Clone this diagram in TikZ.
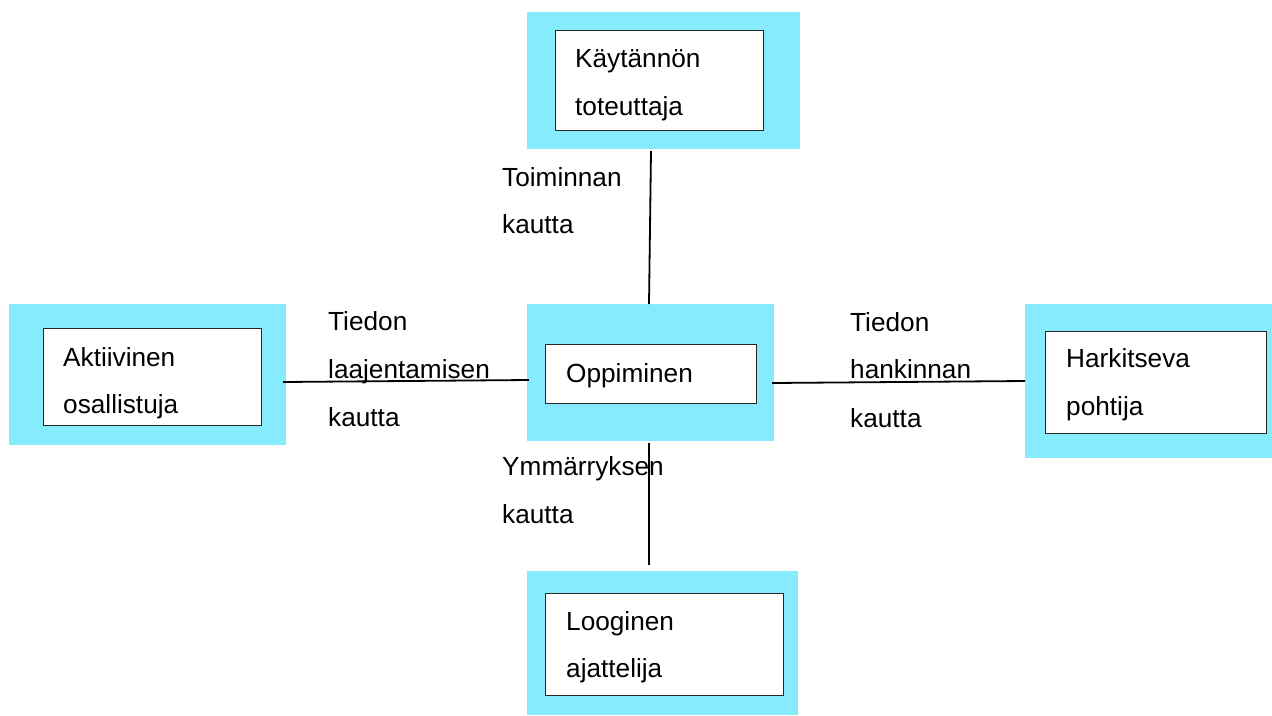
\documentclass[tikz,border=0pt]{standalone}
\usepackage{fontspec}
\setmainfont{Liberation Sans}
\definecolor{boxcyan}{RGB}{134,235,253}
\begin{document}
\begin{tikzpicture}[x=1pt,y=-1pt,
  outerbox/.style={fill=boxcyan,draw=none,inner sep=0pt,anchor=north west},
  innerbox/.style={fill=white,draw=black!85,line width=1.2pt,inner sep=0pt,anchor=north west},
  txt/.style={anchor=base west,inner sep=0pt,font=\fontsize{26.2}{27}\selectfont},
  conn/.style={draw=black,line width=1.8pt}]
\useasboundingbox (0,0) rectangle (1272,715);
% outer cyan boxes
\node[outerbox,minimum width=273pt,minimum height=137pt] (ctop) at (527,12) {};
\node[outerbox,minimum width=247pt,minimum height=137pt] (cmid) at (527,304) {};
\node[outerbox,minimum width=277pt,minimum height=141pt] (cleft) at (9,304) {};
\node[outerbox,minimum width=247pt,minimum height=154pt] (cright) at (1025,304) {};
\node[outerbox,minimum width=271pt,minimum height=144pt] (cbot) at (527,571) {};
% inner white boxes
\node[innerbox,minimum width=208pt,minimum height=100pt] (wtop) at (555,30) {};
\node[innerbox,minimum width=211pt,minimum height=59pt] (wmid) at (545,344) {};
\node[innerbox,minimum width=218pt,minimum height=97pt] (wleft) at (43,328) {};
\node[innerbox,minimum width=221pt,minimum height=102pt] (wright) at (1045,331) {};
\node[innerbox,minimum width=238pt,minimum height=102pt] (wbot) at (545,593) {};
% box texts
\node[txt] (ttop1) at (575,67) {Käytännön};
\node[txt] (ttop2) at (575,115) {toteuttaja};
\node[txt] (tmid) at (566,382) {Oppiminen};
\node[txt] (tleft1) at (63,366) {Aktiivinen};
\node[txt] (tleft2) at (63,413) {osallistuja};
\node[txt] (tright1) at (1066,367) {Harkitseva};
\node[txt] (tright2) at (1066,415) {pohtija};
\node[txt] (tbot1) at (566,630) {Looginen};
\node[txt] (tbot2) at (566,677) {ajattelija};
% connector labels
\node[txt] (la1) at (502,186) {Toiminnan};
\node[txt] (la2) at (502,233) {kautta};
\node[txt] (lb1) at (328,330) {Tiedon};
\node[txt] (lb2) at (328,378) {laajentamisen};
\node[txt] (lb3) at (328,426) {kautta};
\node[txt] (lc1) at (850,331) {Tiedon};
\node[txt] (lc2) at (850,378) {hankinnan};
\node[txt] (lc3) at (850,427) {kautta};
\node[txt] (ld1) at (502,475) {Ymmärryksen};
\node[txt] (ld2) at (502,523) {kautta};
% connector end points
\coordinate (pt1) at (651,151);
\coordinate (pt2) at (649,304);
\coordinate (pl1) at (283,382);
\coordinate (pl2) at (529,380);
\coordinate (pr1) at (772,383);
\coordinate (pr2) at (1025,381);
\coordinate (pb1) at (649,443);
\coordinate (pb2) at (649,565);
\draw[conn] (pt1) -- (pt2);
\draw[conn] (pl1) -- (pl2);
\draw[conn] (pr1) -- (pr2);
\draw[conn] (pb1) -- (pb2);
\end{tikzpicture}
\end{document}
